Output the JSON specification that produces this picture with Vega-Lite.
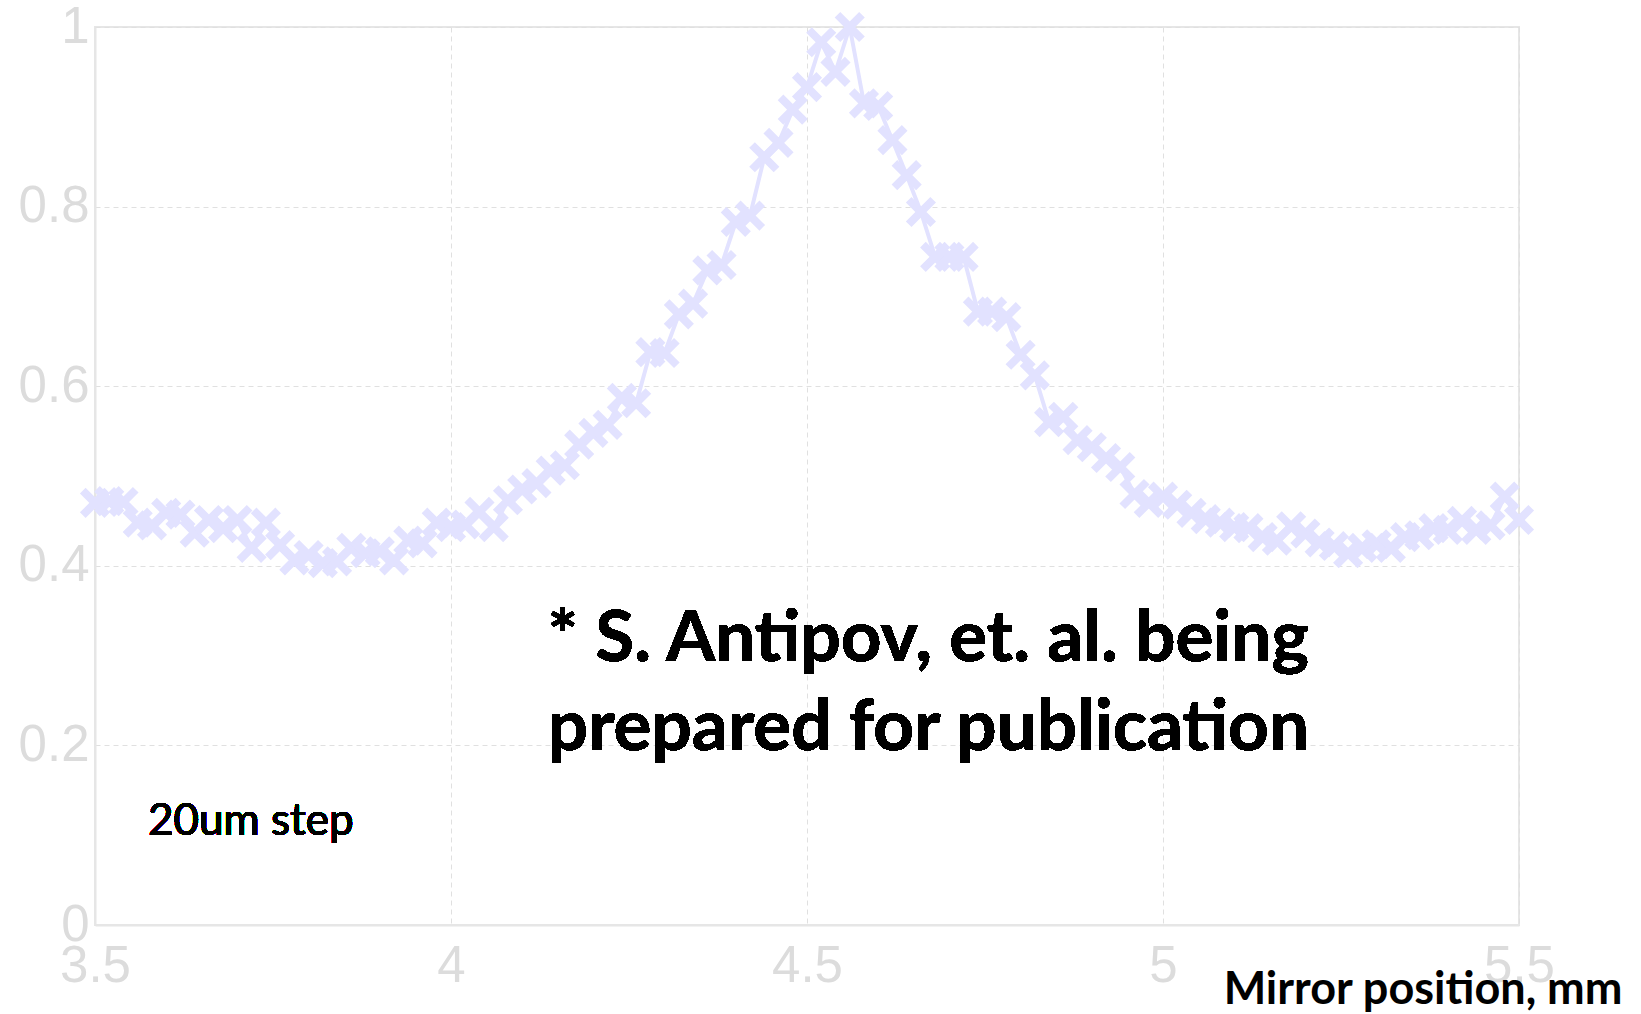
{
  "$schema": "https://vega.github.io/schema/vega-lite/v6.json",
  "autosize": {"type": "none"},
  "width": 1424,
  "height": 898,
  "padding": {"left": 95, "top": 27, "right": 122, "bottom": 89},
  "background": "white",
  "config": {
    "view": {"stroke": "#e6e6e6", "strokeWidth": 2},
    "axis": {
      "domainColor": "#e6e6e6",
      "domainWidth": 2,
      "ticks": false,
      "gridColor": "#e0e0e0",
      "gridDash": [5, 4],
      "gridWidth": 1,
      "labelFont": "Liberation Sans",
      "labelFontSize": 51,
      "labelColor": "#dcdcdc",
      "labelFlush": false,
      "labelOverlap": false
    }
  },
  "data": {
    "values": [
      {"pos": 3.50, "signal": 0.470}, {"pos": 3.52, "signal": 0.472}, {"pos": 3.54, "signal": 0.471},
      {"pos": 3.56, "signal": 0.448}, {"pos": 3.58, "signal": 0.445}, {"pos": 3.60, "signal": 0.459},
      {"pos": 3.62, "signal": 0.457}, {"pos": 3.64, "signal": 0.437}, {"pos": 3.66, "signal": 0.451},
      {"pos": 3.68, "signal": 0.442}, {"pos": 3.70, "signal": 0.451}, {"pos": 3.72, "signal": 0.420},
      {"pos": 3.74, "signal": 0.448}, {"pos": 3.76, "signal": 0.423}, {"pos": 3.78, "signal": 0.406},
      {"pos": 3.80, "signal": 0.412}, {"pos": 3.82, "signal": 0.403}, {"pos": 3.84, "signal": 0.405},
      {"pos": 3.86, "signal": 0.420}, {"pos": 3.88, "signal": 0.414}, {"pos": 3.90, "signal": 0.416},
      {"pos": 3.92, "signal": 0.406}, {"pos": 3.94, "signal": 0.428}, {"pos": 3.96, "signal": 0.425},
      {"pos": 3.98, "signal": 0.448}, {"pos": 4.00, "signal": 0.443}, {"pos": 4.02, "signal": 0.446},
      {"pos": 4.04, "signal": 0.460}, {"pos": 4.06, "signal": 0.443}, {"pos": 4.08, "signal": 0.473},
      {"pos": 4.10, "signal": 0.485}, {"pos": 4.12, "signal": 0.492}, {"pos": 4.14, "signal": 0.506},
      {"pos": 4.16, "signal": 0.512}, {"pos": 4.18, "signal": 0.535}, {"pos": 4.20, "signal": 0.548},
      {"pos": 4.22, "signal": 0.557}, {"pos": 4.24, "signal": 0.587}, {"pos": 4.26, "signal": 0.581},
      {"pos": 4.28, "signal": 0.638}, {"pos": 4.30, "signal": 0.637}, {"pos": 4.32, "signal": 0.680},
      {"pos": 4.34, "signal": 0.692}, {"pos": 4.36, "signal": 0.729}, {"pos": 4.38, "signal": 0.735},
      {"pos": 4.40, "signal": 0.783}, {"pos": 4.42, "signal": 0.790}, {"pos": 4.44, "signal": 0.855},
      {"pos": 4.46, "signal": 0.871}, {"pos": 4.48, "signal": 0.908}, {"pos": 4.50, "signal": 0.933},
      {"pos": 4.52, "signal": 0.983}, {"pos": 4.54, "signal": 0.950}, {"pos": 4.56, "signal": 1.000},
      {"pos": 4.58, "signal": 0.915}, {"pos": 4.60, "signal": 0.912}, {"pos": 4.62, "signal": 0.874},
      {"pos": 4.64, "signal": 0.835}, {"pos": 4.66, "signal": 0.794}, {"pos": 4.68, "signal": 0.744},
      {"pos": 4.70, "signal": 0.744}, {"pos": 4.72, "signal": 0.744}, {"pos": 4.74, "signal": 0.683},
      {"pos": 4.76, "signal": 0.683}, {"pos": 4.78, "signal": 0.677}, {"pos": 4.80, "signal": 0.635},
      {"pos": 4.82, "signal": 0.612}, {"pos": 4.84, "signal": 0.560}, {"pos": 4.86, "signal": 0.566},
      {"pos": 4.88, "signal": 0.540}, {"pos": 4.90, "signal": 0.532}, {"pos": 4.92, "signal": 0.520},
      {"pos": 4.94, "signal": 0.510}, {"pos": 4.96, "signal": 0.480}, {"pos": 4.98, "signal": 0.470},
      {"pos": 5.00, "signal": 0.477}, {"pos": 5.02, "signal": 0.468}, {"pos": 5.04, "signal": 0.459},
      {"pos": 5.06, "signal": 0.452}, {"pos": 5.08, "signal": 0.448}, {"pos": 5.10, "signal": 0.443},
      {"pos": 5.12, "signal": 0.442}, {"pos": 5.14, "signal": 0.432}, {"pos": 5.16, "signal": 0.428},
      {"pos": 5.18, "signal": 0.444}, {"pos": 5.20, "signal": 0.436}, {"pos": 5.22, "signal": 0.426},
      {"pos": 5.24, "signal": 0.422}, {"pos": 5.26, "signal": 0.414}, {"pos": 5.28, "signal": 0.420},
      {"pos": 5.30, "signal": 0.424}, {"pos": 5.32, "signal": 0.420}, {"pos": 5.34, "signal": 0.432},
      {"pos": 5.36, "signal": 0.434}, {"pos": 5.38, "signal": 0.442}, {"pos": 5.40, "signal": 0.440},
      {"pos": 5.42, "signal": 0.450}, {"pos": 5.44, "signal": 0.440}, {"pos": 5.46, "signal": 0.445},
      {"pos": 5.48, "signal": 0.477}, {"pos": 5.50, "signal": 0.451}
    ]
  },
  "encoding": {
    "x": {
      "field": "pos",
      "type": "quantitative",
      "scale": {"domain": [3.5, 5.5], "nice": false, "zero": false},
      "axis": {
        "values": [3.5, 4, 4.5, 5, 5.5],
        "labelExpr": "datum.value % 1 == 0 ? format(datum.value, 'd') : format(datum.value, '.1f')",
        "labelPadding": 16,
        "title": "Mirror position, mm",
        "titleFont": "Lato",
        "titleFontWeight": "bold",
        "titleFontSize": 45,
        "titleColor": "black",
        "titleAnchor": null,
        "titleAlign": "right",
        "titleBaseline": "alphabetic",
        "titleX": 1527,
        "titleY": 78
      }
    },
    "y": {
      "field": "signal",
      "type": "quantitative",
      "scale": {"domain": [0, 1], "nice": false},
      "axis": {
        "values": [0, 0.2, 0.4, 0.6, 0.8, 1],
        "labelExpr": "datum.value == 0 || datum.value == 1 ? format(datum.value, 'd') : format(datum.value, '.1f')",
        "labelPadding": 6,
        "title": null
      }
    }
  },
  "layer": [
    {
      "mark": {"type": "line", "color": "#e2e2ff", "strokeWidth": 4}
    },
    {
      "mark": {
        "type": "point",
        "shape": "M-1,-1L1,1M-1,1L1,-1",
        "filled": false,
        "stroke": "#e2e2ff",
        "strokeWidth": 8,
        "size": 600,
        "opacity": 1
      }
    },
    {
      "mark": {
        "type": "text",
        "text": ["* S. Antipov, et. al. being", "prepared for publication"],
        "font": "Lato",
        "fontWeight": "bold",
        "fontSize": 71,
        "lineHeight": 89,
        "align": "left",
        "baseline": "alphabetic",
        "color": "black"
      },
      "encoding": {
        "x": {"datum": 4.136, "type": "quantitative"},
        "y": {"datum": 0.294, "type": "quantitative"}
      }
    },
    {
      "mark": {
        "type": "text",
        "text": "20um step",
        "font": "Lato",
        "fontSize": 44,
        "align": "left",
        "baseline": "alphabetic",
        "color": "black"
      },
      "encoding": {
        "x": {"datum": 3.5744, "type": "quantitative"},
        "y": {"datum": 0.1, "type": "quantitative"}
      }
    }
  ]
}
